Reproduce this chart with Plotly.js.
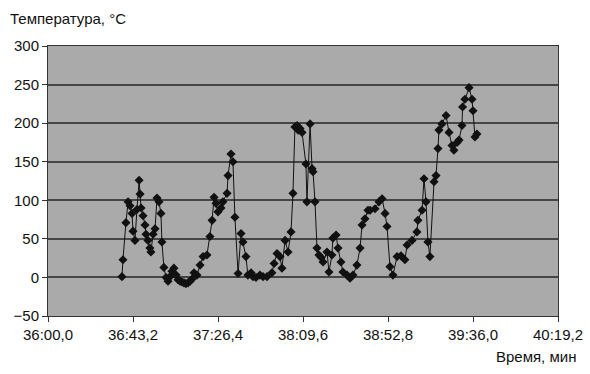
<!DOCTYPE html>
<html>
<head>
<meta charset="utf-8">
<script src="https://cdn.plot.ly/plotly-3.0.1.min.js"></script>
<style>html,body{margin:0;padding:0;background:#fff;}#chart{width:590px;height:374px;}</style>
</head>
<body>
<div id="chart"></div>
<script>
// time in seconds after 36:00,0
var timeSec = [37.6,38.1,39.6,40.7,41.7,42.7,43.2,44.2,45.2,46.3,46.8,47.3,48.3,49.3,49.8,50.8,51.8,52.3,53.4,54.4,55.4,56.4,57.4,57.9,58.9,60.0,61.0,62.0,63.0,64.0,65.1,66.1,67.1,68.1,69.1,70.1,71.2,72.2,73.2,74.2,
  75.7,77.3,78.8,80.8,82.3,83.4,84.4,85.4,86.4,87.9,88.9,91.0,91.5,93.0,94.0,95.0,96.6,98.1,99.1,100.6,101.6,103.2,104.2,105.7,107.7,109.3,111.3,113.8,114.9,116.4,117.9,
  118.9,120.5,122.0,123.5,124.5,125.5,126.6,127.1,128.1,129.1,131.1,131.6,133.2,134.2,134.7,135.7,136.7,137.7,138.8,139.8,141.8,142.8,144.3,144.8,146.4,147.4,148.9,149.9,152.0,153.5,155.0,157.0,158.6,159.6,161.1,162.6,
  163.7,166.2,168.2,169.8,171.3,172.3,173.8,175.3,177.4,179.4,181.4,182.5,185.0,187.5,188.0,190.1,191.1,192.1,193.1,194.1,196.2,197.2,198.2,198.7,200.2,202.3,203.8,205.3,206.3,207.9,208.9,210.4,210.7,211.9,214.0,215.5,216.0,217.0,218.0];
var temperature = [1,23,71,98,93,83,60,48,88,126,108,90,80,68,56,48,38,33,56,63,103,98,83,46,13,0,-5,1,8,12,3,-3,-5,-6,-7,-8,-7,-5,-2,6,
  3,16,27,29,53,74,104,96,85,90,98,109,132,160,150,78,5,57,46,27,3,6,1,0,3,1,1,6,18,31,27,
  12,48,33,59,109,195,197,191,193,188,147,98,199,141,137,98,38,29,26,20,33,7,29,51,55,38,20,7,3,-1,3,16,38,68,76,87,
  87,89,98,102,83,66,14,3,27,28,23,42,48,59,74,87,128,98,46,27,124,132,167,191,199,210,188,171,165,175,178,197,221,231,246,231,216,182,186];
var tickSec = [0,43.2,86.4,129.6,172.8,216,259.2];
var tickLabels = ['36:00,0','36:43,2','37:26,4','38:09,6','38:52,8','39:36,0','40:19,2'];
var yTicks = [-50,0,50,100,150,200,250,300];

var trace = {
  x: timeSec, y: temperature, type: 'scatter', mode: 'lines+markers',
  line: {color: '#111', width: 1},
  marker: {symbol: 'diamond', size: 7, color: '#111'},
  hoverinfo: 'none'
};
var font = {family: 'Liberation Sans, Arial, sans-serif', size: 15, color: '#111'};
var layout = {
  width: 590, height: 374,
  margin: {l: 48, r: 32, t: 46, b: 58, pad: 0},
  paper_bgcolor: '#ffffff', plot_bgcolor: '#aaaaaa',
  showlegend: false,
  font: font,
  xaxis: {
    range: [0, 259.2], tickvals: tickSec, ticktext: tickLabels,
    showgrid: false, zeroline: false, showline: true, linecolor: '#333', linewidth: 1,
    mirror: true, ticks: 'outside', ticklen: 5, tickcolor: '#333', tickfont: font, fixedrange: true
  },
  yaxis: {
    range: [-50, 300], tickvals: yTicks,
    showgrid: true, gridcolor: '#454545', gridwidth: 2, zeroline: false,
    showline: true, linecolor: '#333', linewidth: 1, mirror: true,
    ticks: 'outside', ticklen: 5, tickcolor: '#333', tickfont: font, fixedrange: true
  },
  annotations: [
    {text: 'Температура, °C', xref: 'paper', yref: 'paper', x: -40/510, y: 1 + 28/270,
     xanchor: 'left', yanchor: 'middle', showarrow: false, font: font},
    {text: 'Время, мин', xref: 'paper', yref: 'paper', x: 1 + 20/510, y: -40/270,
     xanchor: 'right', yanchor: 'middle', showarrow: false, font: font}
  ]
};
Plotly.newPlot('chart', [trace], layout, {displayModeBar: false, staticPlot: true});
</script>
</body>
</html>
